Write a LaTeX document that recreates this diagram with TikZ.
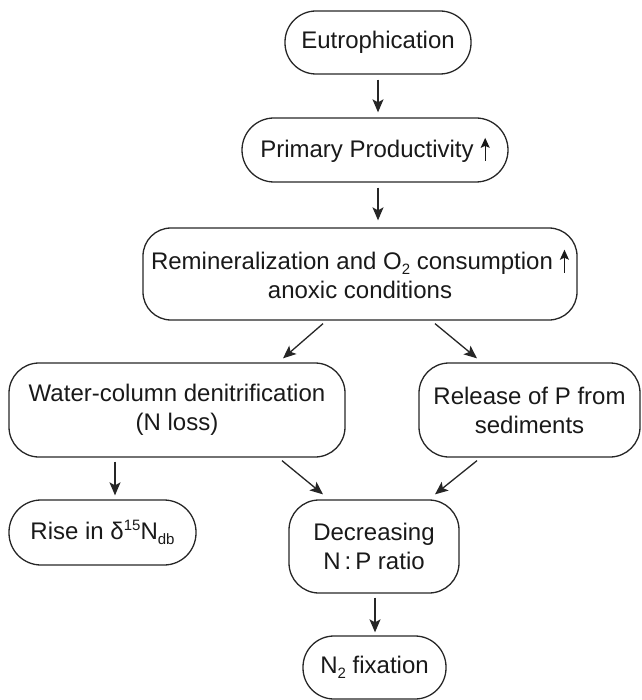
\documentclass[tikz,border=0pt]{standalone}
\usepackage{fontspec}
\setmainfont{Liberation Sans}
\usetikzlibrary{arrows.meta}
\newcommand\mysub[1]{\raisebox{-4.5pt}{\fontsize{15}{15}\selectfont #1}}
\newcommand\mysup[1]{\raisebox{9pt}{\fontsize{15}{15}\selectfont #1}}
\newcommand\uparw{\hspace{7pt}\tikz[baseline=0pt]\draw[line width=1.3pt,-{Stealth[length=10pt,width=9pt,inset=2pt]}] (0pt,-3pt)--(0pt,20pt);}
\begin{document}
\begin{tikzpicture}[x=1pt,y=-1pt,
  box/.style={draw=black!85,line width=1.3pt,rectangle,align=center,inner sep=0pt,
    font=\fontsize{24}{29}\selectfont,text=black!90},
  arr/.style={draw=black!85,line width=1.3pt,-{Stealth[length=13pt,width=11pt,inset=3pt]}}]
\useasboundingbox (0,0) rectangle (641,700);
\node[box,minimum width=186pt,minimum height=63pt,rounded corners=31pt] (eut) at (378,42.5) {Eutrophication};
\node[box,minimum width=266pt,minimum height=64pt,rounded corners=32pt] (prim) at (375,150) {Primary Productivity\uparw};
\node[box,minimum width=434pt,minimum height=92pt,rounded corners=28pt] (remin) at (360,274) {Remineralization and O\mysub{2} consumption\uparw\\anoxic conditions};
\node[box,minimum width=336pt,minimum height=94pt,rounded corners=30pt] (water) at (177,410) {Water-column denitrification\\(N loss)};
\node[box,minimum width=221pt,minimum height=94pt,rounded corners=30pt] (rel) at (529.5,410) {Release of P from\\sediments};
\node[box,minimum width=187pt,minimum height=65pt,rounded corners=32pt] (rise) at (102.5,532.5) {Rise in δ\mysup{15}N\mysub{db}};
\node[box,minimum width=170pt,minimum height=93pt,rounded corners=30pt] (dec) at (374,546.5) {Decreasing\\N\,:\,P ratio};
\node[box,minimum width=143pt,minimum height=63pt,rounded corners=31pt] (n2) at (374.5,667.5) {N\mysub{2} fixation};
\draw[arr] ([yshift=-5pt]eut.south) -- ([yshift=5pt]eut.south |- prim.north);
\draw[arr] ([xshift=3pt,yshift=-5pt]prim.south) -- ([xshift=3pt,yshift=7pt]prim.south |- remin.north);
\draw[arr] ([xshift=-37pt,yshift=-3pt]remin.south) -- ([xshift=106pt,yshift=4pt]water.north);
\draw[arr] ([xshift=75pt,yshift=-3pt]remin.south) -- ([xshift=-52.5pt,yshift=4pt]rel.north);
\draw[arr] ([xshift=-62pt,yshift=-4pt]water.south) -- ([xshift=12.5pt,yshift=4pt]rise.north);
\draw[arr] ([xshift=105pt,yshift=-3pt]water.south) -- ([xshift=-51pt,yshift=5pt]dec.north);
\draw[arr] ([xshift=-52.5pt,yshift=-3pt]rel.south) -- ([xshift=61pt,yshift=5pt]dec.north);
\draw[arr] ([xshift=1pt,yshift=-4pt]dec.south) -- ([xshift=1pt,yshift=3pt]dec.south |- n2.north);
\end{tikzpicture}
\end{document}
